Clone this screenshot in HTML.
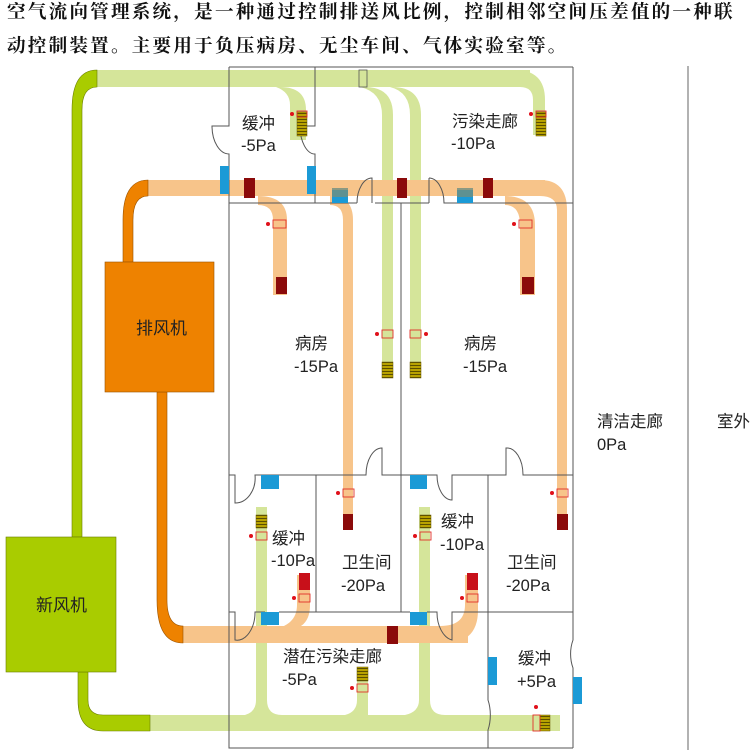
<!DOCTYPE html>
<html><head><meta charset="utf-8"><style>
html,body{margin:0;padding:0;background:#fff;width:750px;height:750px;overflow:hidden}
.t{position:absolute;left:7px;font-family:"Liberation Serif","Noto Serif CJK SC",serif;font-weight:bold;font-size:18.6px;letter-spacing:2.2px;color:#111;white-space:nowrap}
svg text{font-family:"Liberation Sans","Noto Sans CJK SC",sans-serif;fill:#222}
</style></head><body>
<div class="t" style="top:-2px">空气流向管理系统，是一种通过控制排送风比例，控制相邻空间压差值的一种联</div>
<div class="t" style="top:32px">动控制装置。主要用于负压病房、无尘车间、气体实验室等。</div>
<svg width="750" height="750" style="position:absolute;left:0;top:0">
<defs>
<pattern id="st" width="4" height="3" patternUnits="userSpaceOnUse"><rect width="4" height="3" fill="#b8a200"/><rect y="2" width="4" height="1" fill="#5b4e00"/></pattern>
</defs>
<line x1="688" y1="66" x2="688" y2="750" stroke="#999" stroke-width="1.5"/>

<g fill="#d5e59a">
<rect x="97" y="70" width="433" height="17"/>
<path d="M515 70 Q545 70 545 100 L545 135 L533 135 L533 100 Q533 87 520 87 Z"/>
<path d="M280 87 Q306 87 306 110 L306 140 L290 140 L290 105 Q290 92 276 87 Z"/>
<path d="M365 87 Q393 87 393 115 L393 378 L382 378 L382 115 Q382 92 360 87 Z"/>
<path d="M392 87 Q421 87 421 115 L421 378 L410 378 L410 115 Q410 92 390 87 Z"/>
<rect x="150" y="715" width="410" height="16"/>
<path d="M256 507 L267 507 L267 700 Q267 715 282 715 L245 715 Q256 712 256 700 Z"/>
<path d="M419 507 L430 507 L430 700 Q430 715 445 715 L405 715 Q419 712 419 700 Z"/>
<path d="M357 680 L368 680 L368 715 L345 715 Q357 712 357 700 Z"/>
</g>
<g fill="#a9cc00" stroke="#6a7d00" stroke-width="0.6">
<path d="M72 537 L72 110 Q72 70 97 70 L97 87 Q82 87 82 110 L82 537 Z"/>
<path d="M78 672 L88 672 L88 700 Q88 715 103 715 L150 715 L150 731 L103 731 Q78 731 78 700 Z"/>
<rect x="6" y="537" width="110" height="135"/>
</g>
<rect x="359" y="70" width="8" height="17" fill="none" stroke="#555" stroke-width="0.8"/>

<g fill="#f7c48a">
<rect x="148" y="180" width="397" height="16"/>
<path d="M540 180 Q567 180 567 210 L567 530 L557 530 L557 210 Q557 196 540 196 Z"/>
<path d="M505 196 Q535 196 535 225 L535 295 L520 295 L520 225 Q520 205 505 205 Z"/>
<path d="M258 196 Q287 196 287 220 L287 295 L273 295 L273 220 Q273 205 258 205 Z"/>
<path d="M330 196 Q353 196 353 220 L353 530 L343 530 L343 220 Q343 205 330 205 Z"/>
<rect x="183" y="626" width="285" height="17"/>
<path d="M297 575 L310 575 L310 605 Q310 630 285 630 L270 630 Q297 626 297 605 Z"/>
<path d="M465 575 L478 575 L478 610 Q478 643 445 643 L440 626 Q465 626 465 605 Z"/>
</g>
<g fill="#ee8200" stroke="#9a5200" stroke-width="0.6">
<path d="M123 262 L123 220 Q123 180 148 180 L148 196 Q133 196 133 220 L133 262 Z"/>
<path d="M157 392 L167 392 L167 600 Q167 626 183 626 L183 643 Q157 643 157 600 Z"/>
<rect x="105" y="262" width="109" height="130"/>
</g>

<g fill="none" stroke="#555" stroke-width="1">
<path d="M229 67 L573 67"/>
<path d="M229 67 L229 126 L212 126 A17 28 0 0 0 229 154 L229 748 L573 748"/>
<path d="M315 67 L315 126 L300 126 M300 126 A15 28 0 0 0 315 154 L315 203"/>
<path d="M229 203 L357 203 M357 203 A15 25 0 0 1 372 178 L372 203 M375 203 L429 203 M429 178 L429 203 M429 178 A15 25 0 0 1 444 203 L573 203"/>
<path d="M573 67 L573 640 A18 28 0 0 0 573 668 L573 748"/>
<path d="M401 203 L401 612"/>
<path d="M229 475 L235 475 L235 503 A20 25 0 0 0 255 475 L366 475 A16 27 0 0 1 382 448 L382 475 L437 475 A15 25 0 0 0 452 500 L452 475 L506 475 L506 448 A16 27 0 0 1 523 475 L573 475"/>
<path d="M316 475 L316 612 M488 475 L488 700 A15 28 0 0 1 488 730 L488 748"/>
<path d="M229 612 L235 612 L235 640 A18 28 0 0 0 255 612 L265 612 M279 612 L410 612 M427 612 L437 612 A18 28 0 0 0 452 640 L452 612 L573 612"/>
</g>

<g fill="#1b9ad6">
<rect x="220" y="166" width="9" height="28"/><rect x="307" y="166" width="9" height="28"/>
<rect x="261" y="475" width="18" height="14"/><rect x="410" y="475" width="17" height="14"/>
<rect x="261" y="612" width="18" height="13"/><rect x="410" y="612" width="17" height="13"/>
<rect x="488" y="657" width="9" height="28"/><rect x="573" y="677" width="9" height="27"/>
<rect x="332" y="190" width="16" height="13"/><rect x="457" y="190" width="16" height="13"/>
</g>
<g fill="#6f8f80" opacity="0.8"><rect x="332" y="188" width="16" height="9"/><rect x="457" y="188" width="16" height="9"/></g>

<g fill="#8b0a0a">
<rect x="244" y="178" width="11" height="20"/><rect x="397" y="178" width="10" height="20"/><rect x="483" y="178" width="10" height="20"/>
<rect x="276" y="277" width="11" height="17"/><rect x="522" y="277" width="12" height="17"/>
<rect x="343" y="514" width="10" height="16"/><rect x="557" y="514" width="11" height="16"/>
<rect x="387" y="626" width="11" height="18"/>
</g>
<g fill="#c8101a"><rect x="299" y="573" width="11" height="17"/><rect x="467" y="573" width="11" height="17"/></g>

<g fill="url(#st)" stroke="#6b5a00" stroke-width="0.5">
<rect x="297" y="112" width="10" height="24"/><rect x="536" y="112" width="10" height="24"/>
<rect x="382" y="362" width="11" height="16"/><rect x="410" y="362" width="11" height="16"/>
<rect x="256" y="515" width="11" height="13"/><rect x="420" y="515" width="11" height="13"/>
<rect x="357" y="667" width="11" height="14"/><rect x="540" y="715" width="10" height="16"/>
</g>
<g fill="none" stroke="#e0302a" stroke-width="0.9">
<rect x="273" y="220" width="13" height="8"/><rect x="519" y="220" width="13" height="8"/>
<rect x="382" y="330" width="11" height="8"/><rect x="410" y="330" width="11" height="8"/>
<rect x="343" y="489" width="11" height="8"/><rect x="557" y="489" width="11" height="8"/>
<rect x="256" y="532" width="11" height="8"/><rect x="420" y="532" width="11" height="8"/>
<rect x="299" y="594" width="11" height="8"/><rect x="467" y="594" width="11" height="8"/>
<rect x="357" y="684" width="11" height="8"/><rect x="533" y="715" width="7" height="16"/>
<rect x="297" y="111" width="10" height="6"/><rect x="536" y="111" width="10" height="6"/>
</g>
<g fill="#e0101a">
<circle cx="268" cy="224" r="2"/><circle cx="514" cy="224" r="2"/><circle cx="377" cy="334" r="2"/><circle cx="426" cy="334" r="2"/>
<circle cx="338" cy="493" r="2"/><circle cx="552" cy="493" r="2"/><circle cx="251" cy="536" r="2"/><circle cx="415" cy="536" r="2"/>
<circle cx="294" cy="598" r="2"/><circle cx="462" cy="598" r="2"/><circle cx="352" cy="688" r="2"/><circle cx="536" cy="707" r="2"/><circle cx="292" cy="114" r="2"/><circle cx="531" cy="114" r="2"/>
</g>

<g font-size="16.5">
<text x="242" y="129">缓冲</text><text x="241" y="151">-5Pa</text>
<text x="452" y="127">污染走廊</text><text x="451" y="149">-10Pa</text>
<text x="295" y="349">病房</text><text x="294" y="372">-15Pa</text>
<text x="464" y="349">病房</text><text x="463" y="372">-15Pa</text>
<text x="272" y="544">缓冲</text><text x="271" y="566">-10Pa</text>
<text x="441" y="527">缓冲</text><text x="440" y="550">-10Pa</text>
<text x="342" y="568">卫生间</text><text x="341" y="591">-20Pa</text>
<text x="507" y="568">卫生间</text><text x="506" y="591">-20Pa</text>
<text x="283" y="662">潜在污染走廊</text><text x="282" y="685">-5Pa</text>
<text x="518" y="664">缓冲</text><text x="517" y="687">+5Pa</text>
<text x="597" y="427">清洁走廊</text><text x="597" y="450">0Pa</text>
<text x="717" y="427">室外</text>
<text x="136" y="334" font-size="17">排风机</text>
<text x="36" y="611" font-size="17">新风机</text>
</g>
</svg>
</body></html>
